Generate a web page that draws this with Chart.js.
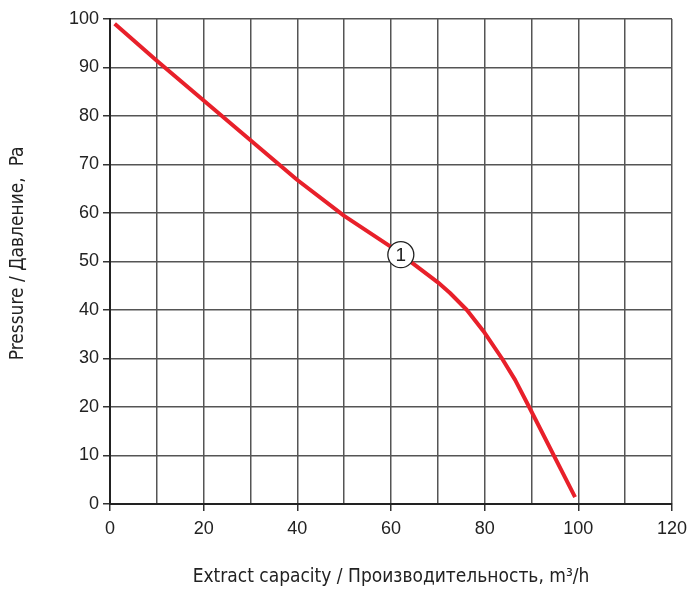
<!DOCTYPE html>
<html>
<head>
<meta charset="utf-8">
<script src="https://cdn.jsdelivr.net/npm/chart.js@4/dist/chart.umd.min.js"></script>
<style>
  body { margin: 0; background: #fff; }
</style>
</head>
<body>
<canvas id="chart" width="687" height="606"></canvas>
<script>
// curve
var capacity = [1, 10, 20, 30, 40, 50, 60, 70, 72.6, 76.2, 80, 83.7, 86.5, 89.5, 99.3];
var pressure = [99, 91.4, 83.2, 75, 66.8, 59.4, 53, 45.7, 43.5, 40, 35.3, 30, 25.6, 20, 1.4];
var markerPoint = [62.1, 51.4];
var markerLabel = '1';

var xTitle = 'Extract capacity / Производительность, m³/h';
var yTitle = '   Pressure / Давление,  Pa';

var points = [];
for (var i = 0; i < capacity.length; i++) {
    points.push({x: capacity[i], y: pressure[i]});
}

var tickFont = {family: "'Liberation Sans', Arial, sans-serif", size: 18};
var titleFont = {family: "'Liberation Sans Narrow', 'DejaVu Sans Condensed', sans-serif", size: 19};

// writes the number inside the round marker
var markerText = {
    id: 'markerText',
    afterDatasetsDraw: function(chart) {
        var pt = chart.getDatasetMeta(1).data[0];
        var ctx = chart.ctx;
        ctx.save();
        ctx.fillStyle = '#222';
        ctx.font = "19px 'Liberation Sans', Arial, sans-serif";
        ctx.textAlign = 'center';
        ctx.textBaseline = 'middle';
        ctx.fillText(markerLabel, pt.x, pt.y + 1);
        ctx.restore();
    }
};

new Chart(document.getElementById('chart'), {
    type: 'scatter',
    data: {
        datasets: [{
            data: points,
            showLine: true,
            borderColor: '#e8202a',
            borderWidth: 4,
            borderJoinStyle: 'round',
            pointRadius: 0,
            tension: 0,
            order: 1
        }, {
            data: [{x: markerPoint[0], y: markerPoint[1]}],
            pointRadius: 13,
            pointBackgroundColor: '#fff',
            pointBorderColor: '#222',
            pointBorderWidth: 1.3,
            order: 0
        }]
    },
    options: {
        responsive: false,
        animation: false,
        layout: {padding: {top: 19, right: 15, left: 0, bottom: 0}},
        plugins: {legend: {display: false}, tooltip: {enabled: false}},
        scales: {
            x: {
                type: 'linear',
                min: 0, max: 120,
                afterFit: function(s) { s.height = 102; s.paddingRight = 0; s.paddingLeft = 0; },
                border: {color: '#222', width: 2},
                grid: {
                    color: '#555',
                    lineWidth: 1.5,
                    tickLength: 7,
                    tickColor: function(c) { return c.tick && c.tick.value % 20 === 0 ? '#333' : 'rgba(0,0,0,0)'; }
                },
                ticks: {
                    stepSize: 10,
                    color: '#222',
                    font: tickFont,
                    padding: 7,
                    maxRotation: 0,
                    callback: function(v) { return v % 20 === 0 ? v : ''; }
                },
                title: {display: true, text: xTitle, color: '#222', font: titleFont, padding: {bottom: 18}}
            },
            y: {
                min: 0, max: 100,
                afterFit: function(s) { s.width = 110; },
                border: {color: '#222', width: 2},
                grid: {color: '#555', lineWidth: 1.5, tickLength: 7, tickColor: '#333'},
                ticks: {stepSize: 10, color: '#222', font: tickFont, padding: 4},
                title: {display: true, text: yTitle, color: '#222', font: titleFont, padding: {top: 7}}
            }
        }
    },
    plugins: [markerText]
});
</script>
</body>
</html>
